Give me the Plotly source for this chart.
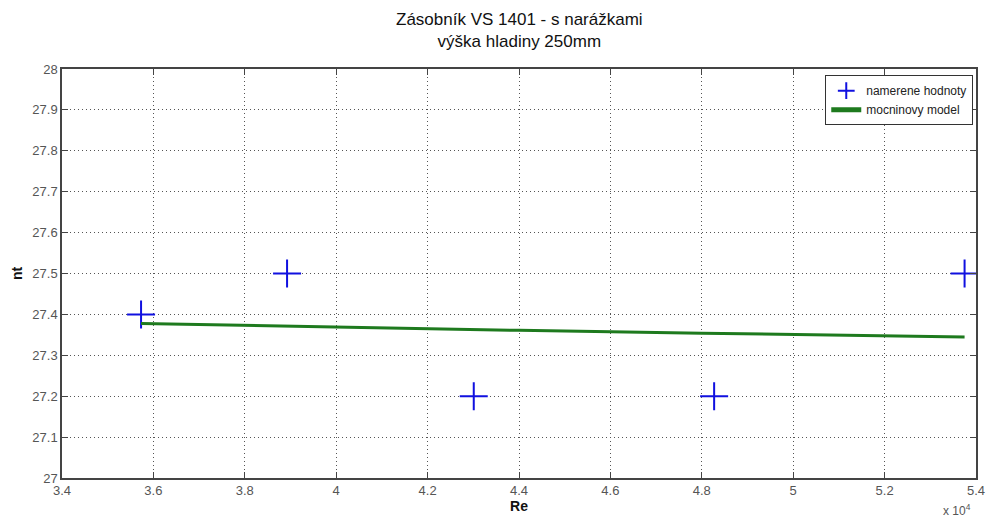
import plotly.graph_objects as go

# measured data
re_meas = [35730, 38925, 43010, 48270, 53750]
nt_meas = [27.4, 27.5, 27.2, 27.2, 27.5]

# power model
re_model = [35730, 40000, 44000, 48000, 53750]
nt_model = [27.378, 27.369, 27.361, 27.354, 27.345]

x_ticks = [34000, 36000, 38000, 40000, 42000, 44000, 46000, 48000, 50000, 52000, 54000]
x_ticklabels = ["3.4", "3.6", "3.8", "4", "4.2", "4.4", "4.6", "4.8", "5", "5.2", "5.4"]
y_ticks = [27, 27.1, 27.2, 27.3, 27.4, 27.5, 27.6, 27.7, 27.8, 27.9, 28]
y_ticklabels = ["27", "27.1", "27.2", "27.3", "27.4", "27.5", "27.6", "27.7", "27.8", "27.9", "28"]

FONT = "Liberation Sans, Arial, sans-serif"

fig = go.Figure()
fig.add_trace(go.Scatter(
    x=re_meas, y=nt_meas, mode="markers", name="namerene hodnoty",
    marker=dict(symbol="cross-thin", size=20, line=dict(color="#1010e0", width=2), color="#1010e0"),
))
fig.add_trace(go.Scatter(
    x=re_model, y=nt_model, mode="lines", name="mocninovy model",
    line=dict(color="#1e7a1e", width=3),
))

axis_common = dict(
    showline=True, linecolor="#444", linewidth=1.5, mirror="ticks",
    ticks="inside", ticklen=6, tickcolor="#444",
    showgrid=True, gridcolor="#555", griddash="1px,3px", gridwidth=1,
    zeroline=False,
    tickfont=dict(family=FONT, size=13, color="#555"),
)

fig.update_layout(
    width=996, height=530,
    margin=dict(l=62, r=11, t=69, b=52),
    paper_bgcolor="white", plot_bgcolor="white",
    xaxis=dict(
        range=[34000, 54000], tickvals=x_ticks, ticktext=x_ticklabels,
        title=dict(text="<b>Re</b>", font=dict(family=FONT, size=14, color="#111"), standoff=2),
        **axis_common,
    ),
    yaxis=dict(
        range=[27, 28], tickvals=y_ticks, ticktext=y_ticklabels,
        title=dict(text="<b>nt</b>", font=dict(family=FONT, size=14, color="#111"), standoff=6),
        **axis_common,
    ),
    legend=dict(
        x=0.997, y=0.985, xanchor="right", yanchor="top",
        bgcolor="white", bordercolor="#333", borderwidth=1,
        font=dict(family=FONT, size=12, color="#222"),
        tracegroupgap=0, itemsizing="constant",
    ),
    showlegend=True,
)

fig.add_annotation(
    text="Zásobník VS 1401 - s narážkami<br>výška hladiny 250mm",
    xref="paper", yref="paper", x=0.5, y=1 + (69 - 30) / 409,
    xanchor="center", yanchor="middle", showarrow=False,
    font=dict(family=FONT, size=17, color="#111"),
)

fig.add_annotation(
    text="x 10<sup>4</sup>", xref="paper", yref="paper", x=0.997, y=-32 / 409,
    xanchor="right", yanchor="middle", showarrow=False,
    font=dict(family=FONT, size=12, color="#555"),
)

fig.write_html(
    "out.html",
    config={"displayModeBar": False},
    post_script="document.body.style.margin='0';document.body.style.padding='0';",
)
